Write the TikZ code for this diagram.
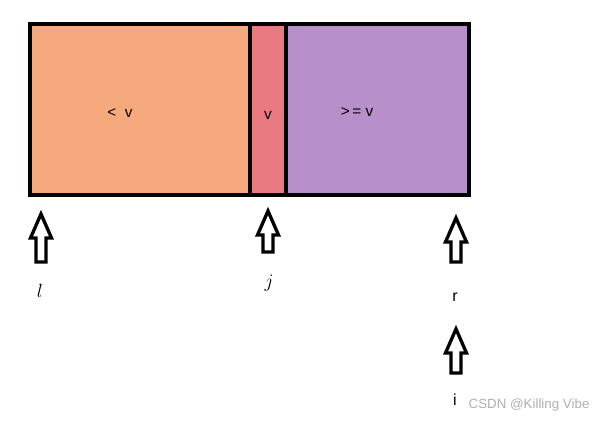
\documentclass[tikz,border=0pt]{standalone}
\usepackage{fontspec}
\setmainfont{Liberation Sans}
\usetikzlibrary{calc}
\definecolor{orangefill}{HTML}{F6A97C}
\definecolor{redfill}{HTML}{E97A82}
\definecolor{purplefill}{HTML}{B68FCB}
\definecolor{wmgray}{HTML}{B0B0B0}
\newcommand{\myuparrow}[4]{% name, cx, tip y, bottom y
  \draw[blockarrow] (#2,#3) -- ++(10.5,24) -- ++(-5.5,0) -- (#2+5,#4) -- (#2-5,#4) -- (#2-5,#3+24) -- ++(-5.5,0) -- cycle;
  \coordinate (#1) at (#2,#4);
}
\begin{document}
\begin{tikzpicture}[x=0.75pt,y=-0.75pt,
  blockarrow/.style={draw=black,line width=2.5pt,fill=white,line join=miter},
  part/.style={draw=black,line width=3pt},
  lbl/.style={font=\fontsize{11.5}{13}\selectfont,inner sep=1pt},
  idx/.style={font=\fontsize{14}{16}\selectfont,inner sep=1pt}]
\useasboundingbox (0,0) rectangle (604,425);
\fill[white] (0,0) rectangle (604,425);
% regions
\fill[orangefill] (30,24) rectangle (250,195);
\fill[redfill] (250,24) rectangle (286,195);
\fill[purplefill] (286,24) rectangle (469,195);
\draw[part] (30,24) rectangle (469,195);
\draw[part] (250,24) -- (250,195);
\draw[part] (286,24) -- (286,195);
\node[lbl] (less) at (120,113) {<\ \ v};
\node[lbl] (piv) at (268,115) {v};
\node[lbl] (geq) at (357,112) {>\,=\ v};
% arrows
\myuparrow{al}{41}{214}{262}
\myuparrow{aj}{268}{211}{252}
\myuparrow{ar}{456}{218}{262}
\myuparrow{ai}{456}{329}{373}
\node[idx] (lab-l) at (40,291) {$l$};
\node[idx] (lab-j) at (269,283) {$j$};
\node[font=\fontsize{12}{14}\selectfont,inner sep=1pt] (lab-r) at (455,297) {r};
\node[font=\fontsize{12}{14}\selectfont,inner sep=1pt] (lab-i) at (455,400) {i};
\node[font=\fontsize{10}{12}\selectfont,text=wmgray,anchor=west] (wm) at (464,405) {CSDN @Killing Vibe};
\end{tikzpicture}
\end{document}
